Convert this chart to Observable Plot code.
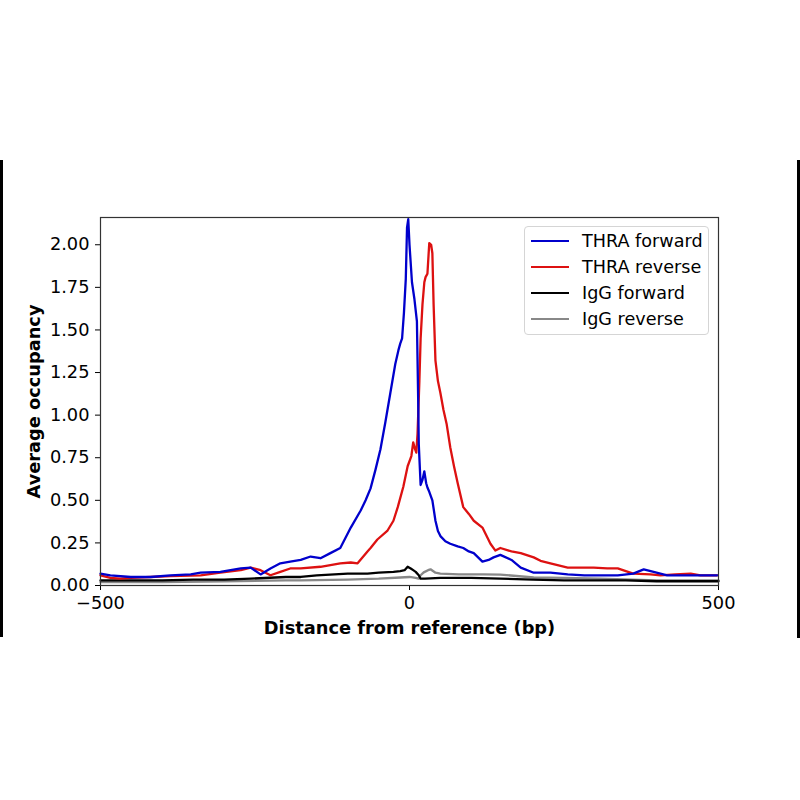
<!DOCTYPE html>
<html>
<head>
<meta charset="utf-8">
<script src="https://cdn.jsdelivr.net/npm/d3@7"></script>
<script src="https://cdn.jsdelivr.net/npm/@observablehq/plot@0.6"></script>
<style>
  html, body { margin: 0; padding: 0; background: #fff; }
  #wrap { position: relative; width: 800px; height: 800px; overflow: hidden; font-family: "DejaVu Sans", sans-serif; }
  .bar { position: absolute; background: #000; }
  #legend { position: absolute; left: 524px; top: 226px; width: 185px; height: 109px; border: 1px solid #d5d5d5; border-radius: 4px; background: rgba(255,255,255,0.85); box-sizing: border-box; }
  .row { position: absolute; left: 0; height: 26px; display: flex; align-items: center; font-size: 17.6px; color: #000; white-space: nowrap; }
  .sw { width: 38px; height: 0; margin-left: 6px; margin-right: 13px; }
</style>
</head>
<body>
<div id="wrap"></div>
<script>
const seriesNames = ["THRA forward", "THRA reverse", "IgG forward", "IgG reverse"];
const seriesColors = ["#0000cc", "#dd1111", "#000000", "#888888"];

const thraFwdX = [-500,-484,-451,-419,-387,-354,-338,-306,-273,-257,-241,-225,-209,-193,-176,-160,-144,-128,-112,-95,-79,-71,-63,-55,-47,-39,-31,-23,-18,-15,-12,-9,-6,-4,-2,0,4,8,12,14,15,18,21,24,27,29,32,37,42,46,50,58,66,78,87,96,104,118,128,136,147,165,180,201,228,256,283,309,337,362,379,395,417,440,471,498];
const thraFwdY = [0.07,0.06,0.05,0.05,0.06,0.065,0.075,0.08,0.10,0.105,0.065,0.10,0.13,0.14,0.15,0.17,0.16,0.19,0.22,0.34,0.44,0.50,0.57,0.68,0.80,0.96,1.13,1.30,1.38,1.42,1.45,1.60,1.80,2.10,2.15,2.00,1.78,1.68,1.55,1.10,0.83,0.59,0.62,0.67,0.60,0.575,0.55,0.50,0.38,0.32,0.29,0.26,0.245,0.23,0.22,0.20,0.19,0.14,0.15,0.165,0.18,0.15,0.105,0.075,0.075,0.065,0.06,0.06,0.06,0.07,0.095,0.08,0.06,0.06,0.06,0.06];

const thraRevX = [-500,-484,-468,-451,-419,-387,-338,-306,-273,-257,-241,-225,-209,-193,-176,-144,-112,-95,-84,-68,-63,-52,-36,-26,-19,-10,-3,3,6,9,11,13,16,18,21,24,26,29,32,35,37,39,42,46,50,55,60,66,72,78,87,96,104,118,131,139,147,165,180,201,212,228,256,283,298,320,337,362,390,406,430,455,471,498];
const thraRevY = [0.06,0.045,0.04,0.045,0.05,0.055,0.06,0.075,0.09,0.105,0.09,0.06,0.08,0.10,0.10,0.11,0.13,0.135,0.13,0.20,0.22,0.27,0.32,0.38,0.46,0.58,0.70,0.76,0.84,0.80,0.78,0.89,1.20,1.45,1.65,1.78,1.81,1.83,2.01,2.00,1.95,1.65,1.32,1.20,1.13,1.03,0.95,0.81,0.70,0.60,0.46,0.42,0.38,0.34,0.245,0.205,0.22,0.20,0.19,0.165,0.145,0.13,0.105,0.105,0.105,0.10,0.10,0.07,0.065,0.06,0.065,0.07,0.06,0.06];

const iggFwdX = [-500,-450,-400,-350,-300,-257,-200,-176,-150,-100,-68,-50,-26,-15,-8,-3,2,6,10,15,18,25,50,100,147,200,250,300,350,400,450,500];
const iggFwdY = [0.03,0.03,0.03,0.035,0.035,0.04,0.05,0.05,0.06,0.07,0.07,0.075,0.08,0.085,0.09,0.11,0.10,0.09,0.08,0.06,0.04,0.04,0.045,0.045,0.04,0.035,0.03,0.03,0.03,0.025,0.025,0.025];

const iggRevX = [-500,-400,-300,-200,-176,-100,-50,-15,0,10,15,18,23,30,34,42,50,80,120,147,201,250,309,400,500];
const iggRevY = [0.02,0.02,0.025,0.03,0.03,0.035,0.04,0.047,0.05,0.045,0.04,0.06,0.077,0.09,0.095,0.075,0.07,0.065,0.065,0.064,0.047,0.045,0.04,0.03,0.03];

const xTicks = [-500, 0, 500];
const yTicks = [0, 0.25, 0.5, 0.75, 1.0, 1.25, 1.5, 1.75, 2.0];

const allX = [thraFwdX, thraRevX, iggFwdX, iggRevX];
const allY = [thraFwdY, thraRevY, iggFwdY, iggRevY];
const rows = [];
allX.forEach((xs, s) => xs.forEach((x, i) => rows.push({series: seriesNames[s], x, y: allY[s][i]})));
const drawOrder = [3, 2, 1, 0];

const chart = Plot.plot({
  width: 800,
  height: 800,
  marginLeft: 100,
  marginRight: 82,
  marginTop: 217,
  marginBottom: 215,
  style: {fontFamily: "DejaVu Sans, sans-serif", fontSize: "17.8px", color: "#000", background: "#fff"},
  x: {domain: [-500, 500], ticks: xTicks, tickFormat: d => d < 0 ? "\u2212" + Math.abs(d) : String(d), tickSize: 5, tickPadding: 6, label: "Distance from reference (bp)", labelAnchor: "center", labelArrow: "none", labelOffset: 48},
  y: {domain: [0, 2.16], ticks: yTicks, tickFormat: d3.format(".2f"), tickSize: 5, tickPadding: 6, label: "Average occupancy", labelAnchor: "center", labelArrow: "none", labelOffset: 73},
  color: {domain: seriesNames, range: seriesColors},
  marks: [
    ...drawOrder.map(s => Plot.line(rows.filter(r => r.series === seriesNames[s]), {x: "x", y: "y", stroke: "series", strokeWidth: 2.3, curve: "linear"})),
    Plot.frame({stroke: "#333", strokeWidth: 1.2})
  ]
});
chart.querySelectorAll('[aria-label="x-axis label"] text, [aria-label="y-axis label"] text').forEach(t => t.setAttribute("font-weight", "bold"));

const wrap = document.getElementById("wrap");
wrap.appendChild(chart);

const lb = document.createElement("div"); lb.className = "bar"; lb.style.cssText = "left:0;top:160px;width:2.5px;height:477px"; wrap.appendChild(lb);
const rb = document.createElement("div"); rb.className = "bar"; rb.style.cssText = "left:796.5px;top:160px;width:3px;height:478px"; wrap.appendChild(rb);

const legend = document.createElement("div"); legend.id = "legend";
seriesNames.forEach((n, i) => {
  const r = document.createElement("div"); r.className = "row"; r.style.top = (1 + i * 26) + "px";
  const sw = document.createElement("div"); sw.className = "sw"; sw.style.borderTop = "2.5px solid " + seriesColors[i];
  const t = document.createElement("span"); t.textContent = n;
  r.appendChild(sw); r.appendChild(t); legend.appendChild(r);
});
wrap.appendChild(legend);
</script>
</body>
</html>
